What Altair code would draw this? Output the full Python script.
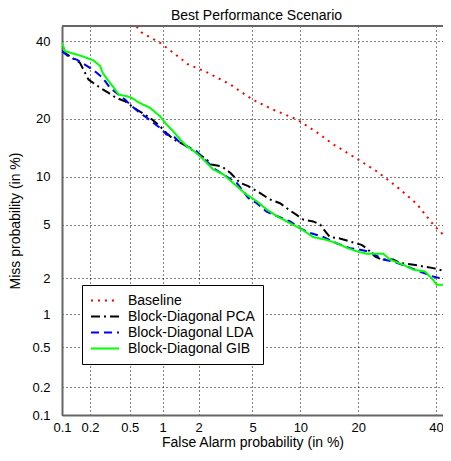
import altair as alt
import pandas as pd
from statistics import NormalDist

series_names = ["Baseline", "Block-Diagonal PCA", "Block-Diagonal LDA", "Block-Diagonal GIB"]

fa_base = [0.58, 0.65, 0.95, 1.23, 1.64, 2.33, 3.5, 5.0, 6.8, 9.6, 12.4, 15.1, 19.9, 24.2, 30.0, 34.6, 39.2, 44.2]
miss_base = [44.3, 42.5, 39.5, 36.7, 33.4, 31.2, 28.0, 24.3, 22.0, 19.8, 17.2, 15.0, 12.5, 10.7, 8.4, 6.8, 5.0, 3.8]

fa_pca = [0.10, 0.157, 0.193, 0.255, 0.31, 0.37, 0.45, 0.58, 0.77, 0.95, 1.08, 1.24, 1.60, 1.93, 2.25, 2.53,
          3.02, 3.5, 4.1, 4.68, 5.6, 6.5, 7.55, 8.5, 9.5, 10.4, 11.8, 12.9, 13.7, 14.5, 16.3, 18.3, 20.7, 21.8,
          23.7, 25.3, 28.2, 30.0, 33.6, 36.4, 39.2, 43.2, 44.2]
miss_pca = [37.1, 33.8, 29.3, 27.2, 25.9, 24.7, 23.9, 22.0, 20.2, 18.4, 17.1, 15.9, 14.7, 13.5, 12.7, 11.7,
            11.45, 10.5, 9.2, 8.8, 8.0, 7.3, 6.9, 6.3, 5.8, 5.4, 5.25, 5.0, 4.5, 4.1, 4.0, 3.8, 3.6, 3.4,
            2.96, 2.8, 2.8, 2.64, 2.56, 2.48, 2.41, 2.27, 2.21]

fa_lda = [0.10, 0.123, 0.145, 0.20, 0.235, 0.27, 0.32, 0.39, 0.45, 0.52, 0.62, 0.72, 0.83, 0.95, 1.08, 1.24,
          1.41, 1.60, 1.93, 2.18, 2.69, 3.10, 3.88, 4.68, 5.34, 6.2, 7.2, 8.7, 10.0, 11.4, 13.4, 15.7, 18.3,
          20.4, 22.6, 25.7, 28.2, 31.8, 35.4, 39.2, 43.2, 44.2]
miss_lda = [37.1, 35.2, 34.7, 32.4, 31.1, 29.8, 27.2, 25.5, 24.3, 22.8, 21.3, 20.2, 19.1, 18.1, 16.8, 16.5,
            15.3, 14.7, 13.8, 12.7, 11.0, 10.3, 9.2, 7.45, 6.9, 6.1, 5.7, 5.25, 4.7, 4.37, 4.1, 3.7, 3.4,
            3.32, 3.2, 2.8, 2.71, 2.48, 2.27, 2.07, 1.95, 1.89]

fa_gib = [0.10, 0.108, 0.164, 0.217, 0.255, 0.27, 0.31, 0.35, 0.39, 0.47, 0.52, 0.62, 0.77, 0.95, 1.08, 1.24,
          1.41, 1.60, 1.93, 2.18, 2.60, 3.10, 3.88, 4.56, 5.34, 6.2, 7.2, 8.7, 10.0, 11.8, 14.0, 15.7, 17.9,
          20.0, 21.8, 25.7, 27.4, 30.8, 33.6, 36.8, 39.2, 40.2, 44.2]
miss_gib = [39.5, 37.1, 35.7, 34.5, 32.9, 31.1, 28.9, 27.2, 25.5, 25.1, 24.7, 23.5, 22.4, 20.5, 18.8, 17.4,
            15.9, 14.7, 13.5, 12.5, 11.0, 10.3, 8.8, 7.8, 7.1, 6.3, 5.7, 5.1, 4.7, 4.1, 3.9, 3.7, 3.4,
            3.2, 3.1, 3.1, 2.8, 2.56, 2.34, 2.27, 1.95, 1.78, 1.78]

tick_labels = [0.1, 0.2, 0.5, 1, 2, 5, 10, 20, 40]
x_min_pct, x_max_pct = 0.1, 42.1
y_min_pct, y_max_pct = 0.1, 44.5

colors = ["#ff0000", "#000000", "#0000ff", "#00ff00"]
dashes = [[2, 5], [9, 4, 2, 4], [8, 5], [1, 0]]

rows = []
for name, fa, miss in zip(series_names, [fa_base, fa_pca, fa_lda, fa_gib], [miss_base, miss_pca, miss_lda, miss_gib]):
    for i, (f, m) in enumerate(zip(fa, miss)):
        rows.append({"system": name, "fa": f, "miss": m, "idx": i})
df = pd.DataFrame(rows)

nd = NormalDist()
x_dom = [nd.inv_cdf(x_min_pct / 100), nd.inv_cdf(x_max_pct / 100)]
y_dom = [nd.inv_cdf(y_min_pct / 100), nd.inv_cdf(y_max_pct / 100)]
tick_vals = [nd.inv_cdf(t / 100) for t in tick_labels]
label_expr = "format(cumulativeNormal(datum.value) * 100, '~g')"

FONT = "Liberation Sans"
FRAME = "#666666"
W, H = 381, 389

def axis(title, **kw):
    return alt.Axis(
        values=tick_vals, labelExpr=label_expr, title=title,
        grid=True, gridColor="#000000", gridDash=[1, 3], gridWidth=1, gridOpacity=1,
        ticks=False, domain=True, domainColor=FRAME, domainWidth=2,
        labelFlush=False, labelOverlap=False,
        labelFont=FONT, labelFontSize=13, labelColor="#000000",
        titleFont=FONT, titleFontSize=14, titleFontWeight="normal", titleColor="#000000",
        **kw)

legend = alt.Legend(
    title=None, orient="none", legendX=20, legendY=259,
    symbolType="stroke", symbolSize=784, symbolStrokeWidth=2, clipHeight=15,
    labelFont=FONT, labelFontSize=14, labelColor="#000000", labelLimit=300,
    strokeColor="#000000", fillColor="#ffffff", padding=8, rowPadding=1, labelOffset=8,
)

base = alt.Chart(df).transform_calculate(
    xz="quantileNormal(datum.fa / 100)",
    yz="quantileNormal(datum.miss / 100)",
).encode(
    x=alt.X("xz:Q", scale=alt.Scale(domain=x_dom, nice=False, zero=False),
            axis=axis("False Alarm probability (in %)", labelPadding=6, titlePadding=1)),
    y=alt.Y("yz:Q", scale=alt.Scale(domain=y_dom, nice=False, zero=False),
            axis=axis("Miss probability (in %)", labelPadding=12, titlePadding=9)),
    color=alt.Color("system:N", scale=alt.Scale(domain=series_names, range=colors), legend=legend),
    strokeDash=alt.StrokeDash("system:N", scale=alt.Scale(domain=series_names, range=dashes), legend=legend),
    order=alt.Order("idx:Q"),
)

layers = []
for name in series_names:
    layers.append(
        base.transform_filter(alt.datum.system == name).mark_line(strokeWidth=2, clip=True)
    )

top_border = alt.Chart(pd.DataFrame({"edge": ["top"]})).mark_rule(
    color=FRAME, strokeWidth=2
).encode(x=alt.value(0), x2=alt.value(W), y=alt.value(0))

chart = alt.layer(*layers, top_border).properties(
    width=W, height=H,
    title=alt.TitleParams("Best Performance Scenario", font=FONT, fontSize=14, fontWeight="normal",
                          color="#000000", anchor="middle", dx=4, offset=2),
    autosize=alt.AutoSizeParams(type="none"),
    padding={"left": 54, "top": 18, "right": 0, "bottom": 36},
).configure_view(stroke=None).configure(background="#ffffff")

chart.save("out.html", embed_options={"renderer": "svg", "actions": False})
